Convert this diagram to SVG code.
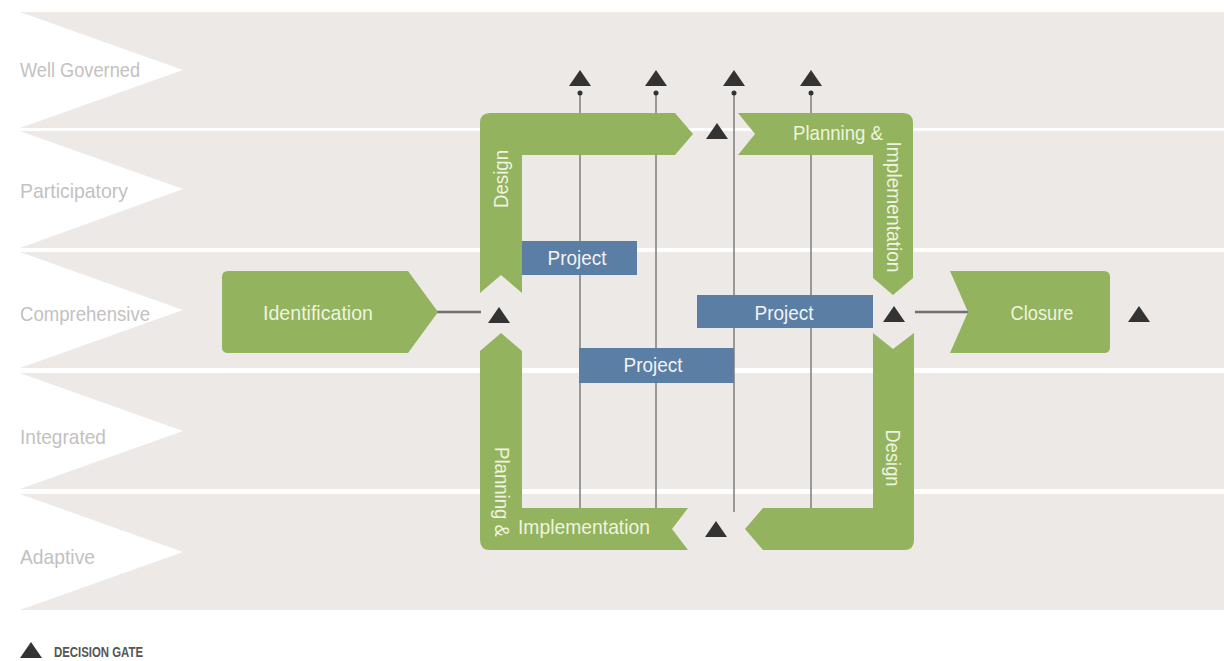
<svg xmlns="http://www.w3.org/2000/svg" width="1224" height="661" viewBox="0 0 1224 661">
<style>
.band{fill:#ece9e7}
.blabel{font-family:"Liberation Sans",Arial,sans-serif;font-size:21px;fill:#c3c1c1}
.green{fill:#93b35e}
.blue{fill:#5b7ea5}
.gtxt{font-family:"Liberation Sans",Arial,sans-serif;font-size:21px;fill:#eef4de;text-anchor:middle}
.btxt{font-family:"Liberation Sans",Arial,sans-serif;font-size:21px;fill:#f1f3f6;text-anchor:middle}
.vline{stroke:#7d7d7d;stroke-width:1.5;fill:none}
.conn{stroke:#6f6f6f;stroke-width:2.5;fill:none}
.gate{fill:#333333}
.legend{font-family:"Liberation Sans",Arial,sans-serif;font-size:14px;font-weight:bold;fill:#555555}
</style>
<defs>
<path id="tri" d="M-11,8 L0,-8 L11,8 Z"/>
</defs>
<rect width="1224" height="661" fill="#ffffff"/>
<g id="bands">
<polygon class="band" points="20,12 1224,12 1224,128 20,128 183,70"/>
<polygon class="band" points="20,131 1224,131 1224,248 20,248 183,189"/>
<polygon class="band" points="20,252 1224,252 1224,368 20,368 183,310"/>
<polygon class="band" points="20,373 1224,373 1224,489 20,489 183,431"/>
<polygon class="band" points="20,494 1224,494 1224,610 20,610 183,552"/>
<text class="blabel" x="20" y="77" textLength="120" lengthAdjust="spacingAndGlyphs">Well Governed</text>
<text class="blabel" x="20" y="198" textLength="108" lengthAdjust="spacingAndGlyphs">Participatory</text>
<text class="blabel" x="20" y="321" textLength="130" lengthAdjust="spacingAndGlyphs">Comprehensive</text>
<text class="blabel" x="20" y="444" textLength="86" lengthAdjust="spacingAndGlyphs">Integrated</text>
<text class="blabel" x="20" y="564" textLength="75" lengthAdjust="spacingAndGlyphs">Adaptive</text>
</g>
<g id="connectors">
<line class="vline" x1="580" y1="93" x2="580" y2="509"/>
<line class="vline" x1="656" y1="93" x2="656" y2="509"/>
<line class="vline" x1="734" y1="93" x2="734" y2="512"/>
<line class="vline" x1="811" y1="93" x2="811" y2="509"/>
<circle class="gate" cx="580" cy="93" r="2.5"/>
<circle class="gate" cx="656" cy="93" r="2.5"/>
<circle class="gate" cx="734" cy="93" r="2.5"/>
<circle class="gate" cx="811" cy="93" r="2.5"/>
<line class="conn" x1="436" y1="312" x2="481" y2="312"/>
<line class="conn" x1="915" y1="312" x2="970" y2="312"/>
</g>
<g id="identification">
<path class="green" d="M228,271 L408,271 L438,312 L408,353 L228,353 Q222,353 222,347 L222,277 Q222,271 228,271 Z"/>
<text class="gtxt" x="318" y="320" textLength="110" lengthAdjust="spacingAndGlyphs">Identification</text>
</g>
<g id="design-top">
<path class="green" d="M480,293 L480,123 Q480,113 490,113 L675,113 L693,134 L675,155 L522,155 L522,293 L501,275 Z"/>
<text class="gtxt" transform="translate(508,179) rotate(-90)" textLength="58" lengthAdjust="spacingAndGlyphs">Design</text>
</g>
<g id="planning-top">
<path class="green" d="M738,113 L903,113 Q913,113 913,123 L913,278 L893,295 L873,278 L873,155 L738,155 L755,134 Z"/>
<text class="gtxt" x="838" y="140" textLength="90" lengthAdjust="spacingAndGlyphs">Planning &amp;</text>
<text class="gtxt" transform="translate(887,207) rotate(90)" textLength="131" lengthAdjust="spacingAndGlyphs">Implementation</text>
</g>
<g id="design-bottom">
<path class="green" d="M873,333 L893,349 L914,333 L914,540 Q914,550 904,550 L763,550 L745,529 L763,508 L873,508 Z"/>
<text class="gtxt" transform="translate(886,458) rotate(90)" textLength="57" lengthAdjust="spacingAndGlyphs">Design</text>
</g>
<g id="planning-bottom">
<path class="green" d="M501,333 L522,351 L522,508 L688,508 L672,529 L688,550 L490,550 Q480,550 480,540 L480,351 Z"/>
<text class="gtxt" transform="translate(495,492) rotate(90)" textLength="90" lengthAdjust="spacingAndGlyphs">Planning &amp;</text>
<text class="gtxt" x="584" y="534" textLength="132" lengthAdjust="spacingAndGlyphs">Implementation</text>
</g>
<g id="closure">
<path class="green" d="M950,271 L1104,271 Q1110,271 1110,277 L1110,347 Q1110,353 1104,353 L950,353 L968,312 Z"/>
<text class="gtxt" x="1042" y="320" textLength="63" lengthAdjust="spacingAndGlyphs">Closure</text>
</g>
<g id="project-1">
<rect class="blue" x="522" y="241" width="115" height="34"/>
<text class="btxt" x="577" y="265" textLength="59" lengthAdjust="spacingAndGlyphs">Project</text>
</g>
<g id="project-2">
<rect class="blue" x="697" y="295" width="176" height="33"/>
<text class="btxt" x="784" y="320" textLength="59" lengthAdjust="spacingAndGlyphs">Project</text>
</g>
<g id="project-3">
<rect class="blue" x="579" y="348" width="155" height="35"/>
<text class="btxt" x="653" y="372" textLength="59" lengthAdjust="spacingAndGlyphs">Project</text>
</g>
<g id="gates">
<use href="#tri" class="gate" x="499" y="315"/>
<use href="#tri" class="gate" x="717" y="131"/>
<use href="#tri" class="gate" x="894" y="314"/>
<use href="#tri" class="gate" x="716" y="529"/>
<use href="#tri" class="gate" x="1139" y="314"/>
<use href="#tri" class="gate" x="580" y="78"/>
<use href="#tri" class="gate" x="656" y="78"/>
<use href="#tri" class="gate" x="734" y="78"/>
<use href="#tri" class="gate" x="811" y="78"/>
</g>
<g id="legend">
<use href="#tri" class="gate" x="31" y="650"/>
<text class="legend" x="54" y="657" textLength="89" lengthAdjust="spacingAndGlyphs">DECISION GATE</text>
</g>
</svg>
